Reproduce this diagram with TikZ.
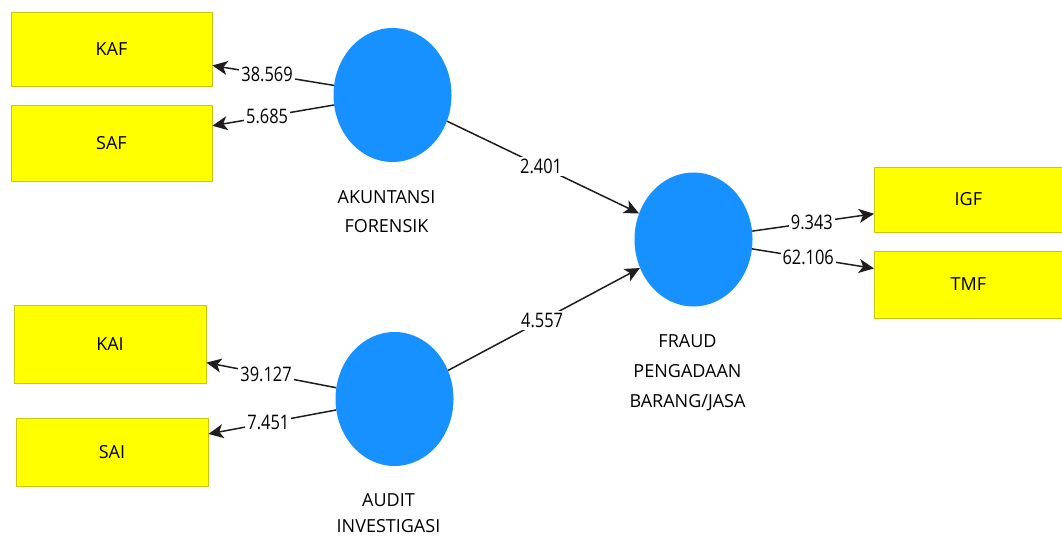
\documentclass[tikz,border=0pt]{standalone}
\usepackage{fontspec}
\setmainfont{Open Sans}
\newfontfamily\numfont[FakeStretch=0.82]{Open Sans}
\usetikzlibrary{arrows.meta,shapes.geometric}

\definecolor{boxfill}{RGB}{255,255,0}
\definecolor{boxline}{RGB}{200,200,20}
\definecolor{lvfill}{RGB}{22,145,255}
\definecolor{pathline}{RGB}{30,30,30}

\tikzset{
  indbox/.style={draw=boxline,fill=boxfill,line width=0.8pt,minimum width=194pt,minimum height=72pt,font=\fontsize{18}{22}\selectfont},
  latent/.style={ellipse,fill=lvfill,minimum width=118pt,minimum height=134pt,inner sep=0pt},
  lvname/.style={anchor=north,align=center,xshift=-6pt,font=\fontsize{18}{29}\selectfont},
  link/.style={draw=pathline,line width=1.5pt,-{Stealth[length=15pt,width=14pt,inset=4pt]}},
  coef/.style={fill=white,inner sep=2pt,font=\numfont\fontsize{20}{24}\selectfont}
}

\begin{document}
\begin{tikzpicture}[x=1pt,y=-1pt]
\useasboundingbox (0,0) rectangle (1062,537);
\node[indbox,minimum width=201pt,minimum height=74pt] (KAF) at (111.5,49) {KAF};
\node[indbox,minimum width=201pt,minimum height=76pt] (SAF) at (111.5,143) {SAF};
\node[indbox,minimum width=192pt,minimum height=78pt] (KAI) at (110,344) {KAI};
\node[indbox,minimum width=192pt,minimum height=68pt] (SAI) at (112,452) {SAI};
\node[indbox,minimum width=200pt,minimum height=65pt,anchor=west] (IGF) at (874,199.5) {\hspace*{-12pt}IGF};
\node[indbox,minimum width=200pt,minimum height=67pt,anchor=west] (TMF) at (874,284.5) {\hspace*{-12pt}TMF};

\node[latent] (AF) at (392.5,95) {};
\node[latent] (AI) at (394.5,399) {};
\node[latent] (FPBJ) at (693.5,239.5) {};

\node[lvname] (AFname) at (392.5,187) {AKUNTANSI\\FORENSIK};
\node[lvname,font=\fontsize{18}{26}\selectfont] (AIname) at (394.5,490) {AUDIT\\INVESTIGASI};
\node[lvname,font=\fontsize{18}{30}\selectfont] (FPBJname) at (693.5,331) {FRAUD\\PENGADAAN\\BARANG/JASA};

\draw[link] (AF) -- node[coef,pos=.55] {38.569} (KAF);
\draw[link] (AF) -- node[coef,pos=.55] {5.685} (SAF);
\draw[link] (AI) -- node[coef,pos=.54] {39.127} (KAI);
\draw[link] (AI) -- node[coef,pos=.53] {7.451} (SAI);
\draw[link] (AF) -- node[coef,pos=.49] {2.401} (FPBJ);
\draw[link] (AI) -- node[coef,pos=.49] {4.557} (FPBJ);
\draw[link] (FPBJ) -- node[coef,pos=.49] {9.343} (IGF);
\draw[link] (FPBJ) -- node[coef,pos=.46] {62.106} (TMF);
\end{tikzpicture}
\end{document}
